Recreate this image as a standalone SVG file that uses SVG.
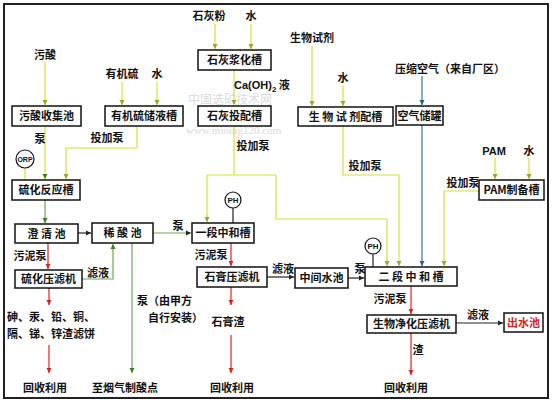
<svg xmlns="http://www.w3.org/2000/svg" width="553" height="403" viewBox="0 0 553 403">
<style>
.box{fill:#fff;stroke:#111;stroke-width:1.5}
.t{font-family:"Noto Sans CJK SC","Noto Sans",sans-serif;font-weight:bold;font-size:11px;fill:#111;text-anchor:middle}
.s{text-anchor:start}
.ln{fill:none;stroke-width:1.2}
.y{stroke:#d6df3a}
.g{stroke:#6aa84f}
.r{stroke:#e02020}
.b{stroke:#3d6fa8}
.k{stroke:#222}
.c{fill:#fff;stroke:#111;stroke-width:1.2}
.wm{font-family:"Liberation Serif","Noto Sans CJK SC",serif;fill:#dadada}
</style>
<defs>
<marker id="ay" markerWidth="6" markerHeight="6" refX="5" refY="3" orient="auto" markerUnits="userSpaceOnUse"><path d="M0,0.5 L5,3 L0,5.5 Z" fill="#9aa52a"/></marker>
<marker id="ag" markerWidth="6" markerHeight="6" refX="5" refY="3" orient="auto" markerUnits="userSpaceOnUse"><path d="M0,0.5 L5,3 L0,5.5 Z" fill="#3f7a30"/></marker>
<marker id="ar" markerWidth="6" markerHeight="6" refX="5" refY="3" orient="auto" markerUnits="userSpaceOnUse"><path d="M0,0.5 L5,3 L0,5.5 Z" fill="#e02020"/></marker>
<marker id="ab" markerWidth="6" markerHeight="6" refX="5" refY="3" orient="auto" markerUnits="userSpaceOnUse"><path d="M0,0.5 L5,3 L0,5.5 Z" fill="#2d5a8a"/></marker>
<marker id="ak" markerWidth="6" markerHeight="6" refX="5" refY="3" orient="auto" markerUnits="userSpaceOnUse"><path d="M0,0.5 L5,3 L0,5.5 Z" fill="#222"/></marker>
</defs>
<rect x="0" y="0" width="553" height="403" fill="#fff"/>
<rect x="4" y="4" width="544" height="394" fill="none" stroke="#222" stroke-width="2"/>
<g id="watermark">
<text class="wm" x="188" y="104" font-size="12">中国选矿技术网</text>
<text class="wm" x="186" y="134" font-size="11">www.mining120.com</text>
</g>
<g id="connectors">
<path class="ln y" d="M45,62 V105" marker-end="url(#ay)"/>
<path class="ln y" d="M122,82 V105" marker-end="url(#ay)"/>
<path class="ln y" d="M157,82 V105" marker-end="url(#ay)"/>
<path class="ln y" d="M215,24 V49" marker-end="url(#ay)"/>
<path class="ln y" d="M251,24 V49" marker-end="url(#ay)"/>
<path class="ln y" d="M234,70 V105" marker-end="url(#ay)"/>
<path class="ln y" d="M312,46 V106" marker-end="url(#ay)"/>
<path class="ln y" d="M343,86 V106" marker-end="url(#ay)"/>
<path class="ln b" d="M422,76 V105" marker-end="url(#ab)"/>
<path class="ln b" d="M422,125 V266" marker-end="url(#ab)"/>
<path class="ln y" d="M495,158 V179" marker-end="url(#ay)"/>
<path class="ln y" d="M529,158 V179" marker-end="url(#ay)"/>
<path class="ln y" d="M479,191 H444 V266" marker-end="url(#ay)"/>
<path class="ln y" d="M45,126 V179" marker-end="url(#ag)"/>
<path class="ln y" d="M137,126 V148 H66 V179" marker-end="url(#ay)"/>
<path class="ln y" d="M25,168 V180"/>
<path class="ln g" d="M45,200 V223" marker-end="url(#ag)"/>
<path class="ln k" d="M78,233 H91" marker-end="url(#ak)"/>
<path class="ln g" d="M153,233 H191" marker-end="url(#ak)"/>
<path class="ln r" d="M48,243 V269" marker-end="url(#ar)"/>
<path class="ln g" d="M82,279 H113 V244" marker-end="url(#ag)"/>
<path class="ln g" d="M132,243 V373" marker-end="url(#ag)"/>
<path class="ln r" d="M49,288 V305" marker-end="url(#ar)"/>
<path class="ln r" d="M49,345 V373" marker-end="url(#ar)"/>
<path class="ln y" d="M234,126 V175 M207,175 H276 M207,175 V222"/>
<path class="ln y" d="M276,175 V219 H387 V266" marker-end="url(#ay)"/>
<path class="ln y" d="M207,215 V222" marker-end="url(#ay)"/>
<path class="ln k" d="M233,208 V223"/>
<path class="ln r" d="M231,243 V266" marker-end="url(#ar)"/>
<path class="ln k" d="M267,277 H294" marker-end="url(#ak)"/>
<path class="ln k" d="M348,278 H364" marker-end="url(#ak)"/>
<path class="ln r" d="M231,287 V305" marker-end="url(#ar)"/>
<path class="ln r" d="M231,335 V373" marker-end="url(#ar)"/>
<path class="ln y" d="M343,126 V175 H399 V266" marker-end="url(#ay)"/>
<path class="ln k" d="M373,254 V267"/>
<path class="ln r" d="M411,286 V314" marker-end="url(#ar)"/>
<path class="ln k" d="M456,323 H503" marker-end="url(#ak)"/>
<path class="ln r" d="M411,333 V375" marker-end="url(#ar)"/>
</g>
<g id="labels">
<text class="t" x="45" y="59">污酸</text>
<text class="t" x="122" y="78">有机硫</text>
<text class="t" x="157" y="78">水</text>
<text class="t" x="209" y="20">石灰粉</text>
<text class="t" x="251" y="20">水</text>
<text class="t s" x="234" y="89" style="font-family:'Liberation Sans',sans-serif">Ca(OH)<tspan font-size="8" dy="3">2</tspan><tspan dy="-3" style="font-family:'Noto Sans CJK SC',sans-serif"> 液</tspan></text>
<text class="t" x="312" y="42">生物试剂</text>
<text class="t" x="343" y="82">水</text>
<text class="t s" x="395" y="73">压缩空气（来自厂区）</text>
<text class="t" x="494" y="155" style="font-family:'Liberation Sans',sans-serif">PAM</text>
<text class="t" x="529" y="155">水</text>
<text class="t" x="463" y="187">投加泵</text>
<text class="t" x="40" y="143">泵</text>
<text class="t" x="107" y="142">投加泵</text>
<text class="t" x="253" y="150">投加泵</text>
<text class="t" x="365" y="170">投加泵</text>
<text class="t" x="178" y="230">泵</text>
<text class="t" x="30" y="260">污泥泵</text>
<text class="t" x="98" y="277">滤液</text>
<text class="t s" x="137" y="305">泵（由甲方</text>
<text class="t s" x="148" y="322">自行安装）</text>
<text class="t s" x="7" y="321">砷、汞、铅、铜、</text>
<text class="t s" x="7" y="338">隔、锑、锌渣滤饼</text>
<text class="t" x="45" y="392">回收利用</text>
<text class="t" x="125" y="392">至烟气制酸点</text>
<text class="t" x="211" y="259">污泥泵</text>
<text class="t" x="283" y="273">滤液</text>
<text class="t" x="360" y="273">泵</text>
<text class="t" x="228" y="326">石膏渣</text>
<text class="t" x="232" y="392">回收利用</text>
<text class="t" x="390" y="303">污泥泵</text>
<text class="t" x="478" y="319">滤液</text>
<text class="t" x="418" y="354">渣</text>
<text class="t" x="406" y="392">回收利用</text>
</g>
<g id="n_wusuan"><rect class="box" x="12" y="106" width="69" height="20"/><text class="t" x="46.5" y="120">污酸收集池</text></g>
<g id="n_youjiliu"><rect class="box" x="105" y="106" width="78" height="20"/><text class="t" x="144" y="120">有机硫储液槽</text></g>
<g id="n_shihuijiang"><rect class="box" x="198" y="50" width="73" height="20"/><text class="t" x="234.5" y="64">石灰浆化槽</text></g>
<g id="n_shihuitoupei"><rect class="box" x="198" y="106" width="73" height="20"/><text class="t" x="234.5" y="120">石灰投配槽</text></g>
<g id="n_shengwu"><rect class="box" x="298" y="107" width="95" height="19"/><text class="t" x="345.5" y="121">生 物 试 剂配槽</text></g>
<g id="n_kongqi"><rect class="box" x="396" y="106" width="47" height="19"/><text class="t" x="419.5" y="120">空气储罐</text></g>
<g id="n_pam"><rect class="box" x="479" y="180" width="65" height="20"/><text class="t" x="511.5" y="194">PAM制备槽</text></g>
<g id="n_orp"><circle class="c" cx="25" cy="159" r="9"/><text class="t" x="25" y="162" style="font-family:'Liberation Sans',sans-serif;font-size:7px">ORP</text></g>
<g id="n_liuhua"><rect class="box" x="12" y="180" width="68" height="20"/><text class="t" x="46" y="194">硫化反应槽</text></g>
<g id="n_chengqing"><rect class="box" x="15" y="224" width="63" height="19"/><text class="t" x="46.5" y="238">澄 清 池</text></g>
<g id="n_xisuan"><rect class="box" x="92" y="223" width="61" height="20"/><text class="t" x="122.5" y="237">稀 酸 池</text></g>
<g id="n_ph1"><circle class="c" cx="233" cy="200" r="8"/><text class="t" x="233" y="203" style="font-family:'Liberation Sans',sans-serif;font-size:8px">PH</text></g>
<g id="n_yiduan"><rect class="box" x="192" y="223" width="62" height="20"/><text class="t" x="223" y="237">一段中和槽</text></g>
<g id="n_liuhuayalv"><rect class="box" x="15" y="270" width="67" height="18"/><text class="t" x="48.5" y="283">硫化压滤机</text></g>
<g id="n_shigao"><rect class="box" x="197" y="267" width="70" height="20"/><text class="t" x="232" y="281">石膏压滤机</text></g>
<g id="n_zhongjian"><rect class="box" x="295" y="268" width="53" height="20"/><text class="t" x="321.5" y="282">中间水池</text></g>
<g id="n_ph2"><circle class="c" cx="373" cy="246" r="8"/><text class="t" x="373" y="249" style="font-family:'Liberation Sans',sans-serif;font-size:8px">PH</text></g>
<g id="n_erduan"><rect class="box" x="365" y="267" width="92" height="19"/><text class="t" x="411" y="281">二 段 中 和 槽</text></g>
<g id="n_shengwujinghua"><rect class="box" x="367" y="315" width="89" height="18"/><text class="t" x="411.5" y="328">生物净化压滤机</text></g>
<g id="n_chushui"><rect class="box" x="504" y="313" width="39" height="19"/><text class="t" x="523.5" y="327" style="fill:#e02020">出水池</text></g>
</svg>
